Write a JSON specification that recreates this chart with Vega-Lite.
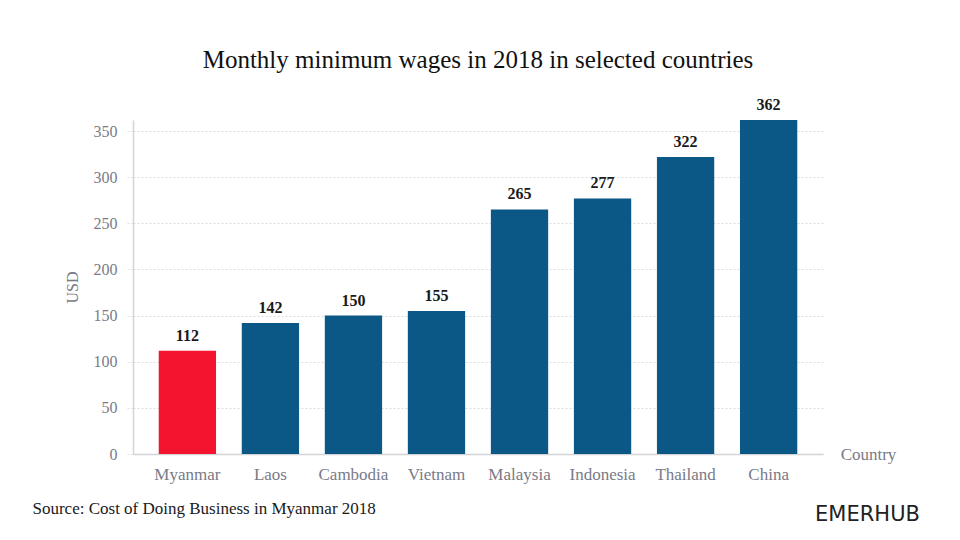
{
  "$schema": "https://vega.github.io/schema/vega-lite/v6.json",
  "width": 690,
  "height": 334,
  "autosize": {"type": "none"},
  "padding": {"left": 133, "top": 120, "right": 137, "bottom": 86},
  "background": "white",
  "title": {
    "text": "Monthly minimum wages in 2018 in selected countries",
    "font": "Liberation Serif",
    "fontSize": 25,
    "fontWeight": "normal",
    "color": "#111111",
    "anchor": "middle",
    "offset": 24
  },
  "data": {
    "values": [
      {"country": "Myanmar", "wage": 112},
      {"country": "Laos", "wage": 142},
      {"country": "Cambodia", "wage": 150},
      {"country": "Vietnam", "wage": 155},
      {"country": "Malaysia", "wage": 265},
      {"country": "Indonesia", "wage": 277},
      {"country": "Thailand", "wage": 322},
      {"country": "China", "wage": 362}
    ]
  },
  "config": {
    "view": {"stroke": null},
    "axis": {
      "labelFont": "Liberation Serif",
      "titleFont": "Liberation Serif",
      "labelColor": "#7a7a88",
      "titleColor": "#7a7a88",
      "labelFontSize": 16,
      "titleFontSize": 16,
      "titleFontWeight": "normal"
    }
  },
  "resolve": {"axis": {"x": "independent", "y": "independent"}},
  "layer": [
    {
      "mark": {"type": "bar"},
      "encoding": {
        "x": {
          "field": "country",
          "type": "nominal",
          "sort": null,
          "scale": {"paddingInner": 0.31, "paddingOuter": 0.31},
          "axis": {
            "title": "Country",
            "titleX": 735,
            "titleY": 0,
            "titleAlign": "center",
            "titleBaseline": "middle",
            "titleAngle": 0,
            "titleFontSize": 17,
            "labelAngle": 0,
            "labelPadding": 12,
            "labelFontSize": 17,
            "ticks": false,
            "domainColor": "#d4d4d8",
            "domainWidth": 1.5,
            "grid": false
          }
        },
        "y": {
          "field": "wage",
          "type": "quantitative",
          "scale": {"domain": [0, 362], "nice": false},
          "axis": {
            "title": "USD",
            "values": [0, 50, 100, 150, 200, 250, 300, 350],
            "titleX": -61,
            "titleAlign": "center",
            "titleBaseline": "middle",
            "labelPadding": 10,
            "tickSize": 6,
            "tickColor": "#dddddd",
            "tickDash": [2, 2],
            "gridColor": "#dddddd",
            "gridDash": [2, 2],
            "domainColor": "#d4d4d8",
            "domainWidth": 1.5
          }
        },
        "color": {
          "condition": {"test": "datum.country === 'Myanmar'", "value": "#f5142f"},
          "value": "#0b5785"
        }
      }
    },
    {
      "mark": {
        "type": "text",
        "baseline": "bottom",
        "dy": -7,
        "font": "Liberation Serif",
        "fontSize": 16,
        "fontWeight": 600,
        "color": "#1a1a1a"
      },
      "encoding": {
        "x": {
          "field": "country",
          "type": "nominal",
          "sort": null,
          "axis": {
            "orient": "top",
            "labels": false,
            "ticks": false,
            "domain": false,
            "grid": false,
            "title": "Source: Cost of Doing Business in Myanmar 2018",
            "titleX": -101,
            "titleY": 388,
            "titleAlign": "left",
            "titleBaseline": "middle",
            "titleAngle": 0,
            "titleColor": "#1a1a1a",
            "titleFontSize": 17
          }
        },
        "y": {
          "field": "wage",
          "type": "quantitative",
          "axis": {
            "orient": "right",
            "labels": false,
            "ticks": false,
            "domain": false,
            "grid": false,
            "title": "EMERHUB",
            "titleX": 44,
            "titleY": 394,
            "titleAlign": "center",
            "titleBaseline": "middle",
            "titleAngle": 0,
            "titleFont": "DejaVu Sans",
            "titleFontSize": 21,
            "titleColor": "#222222"
          }
        },
        "text": {"field": "wage", "type": "quantitative"}
      }
    }
  ]
}
